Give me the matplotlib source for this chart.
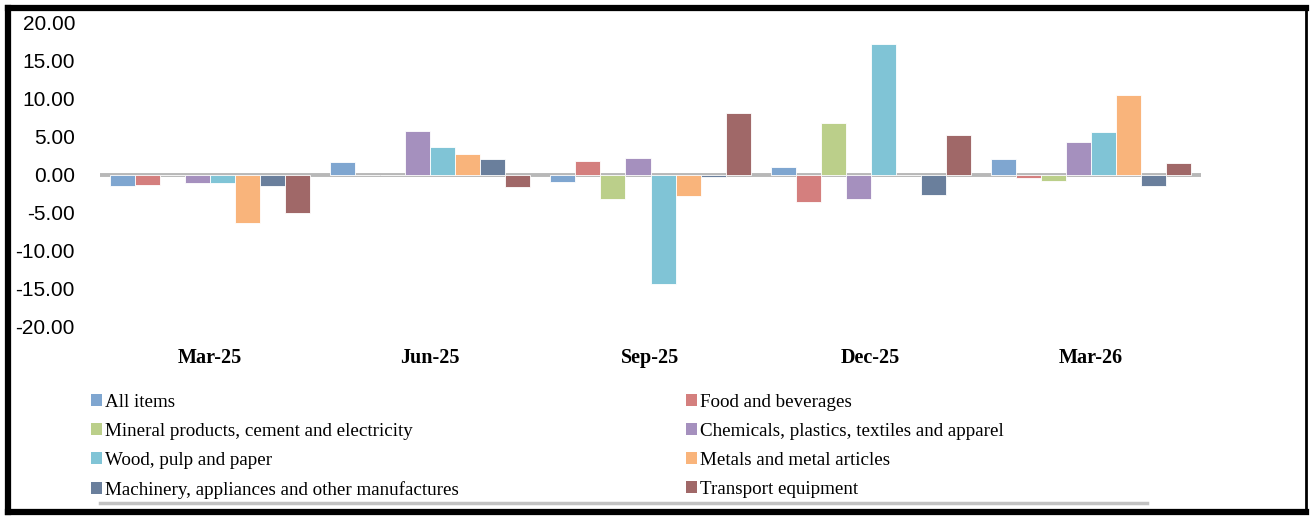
import matplotlib
matplotlib.use("Agg")
import matplotlib.pyplot as plt
from matplotlib.lines import Line2D
from matplotlib.patches import Patch
import numpy as np

quarters = ["Mar-25", "Jun-25", "Sep-25", "Dec-25", "Mar-26"]

series_names = [
    "All items",
    "Food and beverages",
    "Mineral products, cement and electricity",
    "Chemicals, plastics, textiles and apparel",
    "Wood, pulp and paper",
    "Metals and metal articles",
    "Machinery, appliances and other manufactures",
    "Transport equipment",
]

all_items = [-1.4, 1.75, -0.9, 1.0, 2.05]
food = [-1.3, 0.0, 1.9, -3.6, -0.35]
mineral = [0.0, 0.0, -3.1, 6.8, -0.8]
chemicals = [-1.1, 5.75, 2.3, -3.2, 4.4]
wood = [-1.1, 3.75, -14.4, 17.2, 5.6]
metals = [-6.3, 2.7, -2.7, 0.0, 10.5]
machinery = [-1.5, 2.15, -0.2, -2.6, -1.5]
transport = [-5.0, -1.55, 8.1, 5.2, 1.6]

values = [all_items, food, mineral, chemicals, wood, metals, machinery, transport]

colors = ["#7FA6D0", "#D47F7E", "#BBCF8A", "#A590BE",
          "#80C4D6", "#F9B47B", "#6A7F9C", "#A06868"]

fig = plt.figure(figsize=(13.1, 5.17), dpi=100)
ax = fig.add_axes([100 / 1310, 190 / 517, 1101 / 1310, 304 / 517])

x = np.arange(len(quarters))
w = 25 / 220
for i, (vals, c) in enumerate(zip(values, colors)):
    ax.bar(x + (i - 3.5) * w, vals, width=w, color=c,
           edgecolor="white", linewidth=0.6, zorder=2)

ax.axhline(0, color="#B8B8B8", linewidth=2.8, zorder=1)
ax.set_xlim(-0.5, 4.5)
ax.set_ylim(-20, 20)
ax.set_yticks(np.arange(-20, 21, 5))
ax.set_yticklabels([f"{v:.2f}" for v in np.arange(-20, 21, 5)],
                   fontfamily="Liberation Sans", fontsize=15)
ax.tick_params(axis="y", length=0, pad=18)
ax.set_xticks(x)
ax.set_xticklabels(quarters, fontfamily="Liberation Serif",
                   fontweight="bold", fontsize=14.5)
ax.tick_params(axis="x", length=0, pad=15)
for s in ax.spines.values():
    s.set_visible(False)

handles = [Patch(facecolor=c, edgecolor="none") for c in colors]
leg_kw = dict(frameon=False, prop={"family": "Liberation Serif", "size": 13.7},
              handlelength=0.6, handleheight=0.6, handletextpad=0.15,
              labelspacing=0.63, borderpad=0, borderaxespad=0, loc="upper left")
leg1 = fig.legend(handles[0::2], series_names[0::2],
                  bbox_to_anchor=(91 / 1310, 1 - 394 / 517), **leg_kw)
leg2 = fig.legend(handles[1::2], series_names[1::2],
                  bbox_to_anchor=(686 / 1310, 1 - 394 / 517), **leg_kw)

# faint shadow under the legend
fig.add_artist(Line2D([100 / 1310, 1147 / 1310], [1 - 503 / 517] * 2,
                      color="#9A9A9A", linewidth=2.5, alpha=0.6,
                      transform=fig.transFigure))

# outer black frame
def frame(xs, ys, lw):
    fig.add_artist(Line2D(xs, ys, color="black", linewidth=lw,
                          transform=fig.transFigure, solid_capstyle="projecting"))

L, R, T, B = 8 / 1310, 1306 / 1310, 1 - 7.5 / 517, 1 - 512 / 517
frame([L, R], [T, T], 4.5)
frame([L, R], [B, B], 4.5)
frame([L, L], [B, T], 4.5)
frame([R, R], [B, T], 2)

fig.savefig("out.png", dpi=100)
